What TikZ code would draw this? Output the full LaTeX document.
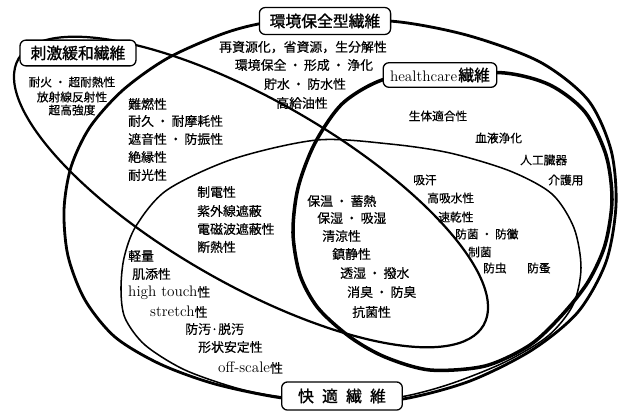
\documentclass[tikz,border=0pt]{standalone}
\usepackage{fontspec}
\newfontfamily\jp{Noto Sans CJK JP}[FakeBold=0.4]
\newfontfamily\jpb{Noto Sans CJK JP}[FakeBold=1.2]
\newcommand{\kdot}{\hspace{2pt}・\hspace{2pt}}
\newcommand{\lat}[1]{{\rmfamily\fontsize{13}{15}\selectfont #1}}

\begin{document}
\begin{tikzpicture}[x=0.03cm,y=-0.03cm,
  item/.style={font=\jp\fontsize{11}{13}\selectfont,inner sep=0pt},
  smallitem/.style={font=\jp\fontsize{10}{12}\selectfont,inner sep=0pt},
  lbl/.style={draw,fill=white,rounded corners=5pt,line width=1.1pt,inner sep=0pt,
    font=\jpb\fontsize{13.5}{16}\selectfont}]
  \useasboundingbox (0,0) rectangle (621,413);

  % outer ellipse (environment)
  \draw[line width=2.4pt] plot[smooth cycle] coordinates {(325,19) (400,22) (470,36) (540,62) (588,100) (611,150) (616,205) (606,262) (578,312) (532,350) (470,381) (403,399) (342,402) (282,398) (215,384) (160,364) (115,337) (85,300) (68,256) (64,210) (71,167) (90,127) (123,90) (168,58) (225,33) (270,22)};
  % healthcare
  \draw[line width=3pt] plot[smooth cycle] coordinates {(440,74) (505,73) (550,85) (585,112) (606,155) (612,200) (605,245) (588,282) (562,315) (530,345) (485,366) (430,370) (385,357) (350,337) (318,308) (300,275) (293,233) (298,188) (315,143) (343,103) (385,79)};
  % stimulus ellipse
  \draw[line width=1.9pt,rotate around={-29.8:(251,192)}] (251,192) ellipse [x radius=268,y radius=92];
  % comfort
  \draw[line width=1.3pt] plot[smooth cycle] coordinates {(317,140) (390,144) (450,153) (510,171) (552,194) (574,228) (581,268) (573,305) (548,336) (505,362) (450,384) (400,397) (342,401) (290,398) (240,389) (185,370) (145,345) (125,318) (121,290) (124,258) (136,226) (167,190) (233,159)};

  % labels
  \node[lbl,minimum width=112pt,minimum height=23pt] (env) at (325,21) {環境保全型繊維};
  \node[lbl,minimum width=99pt,minimum height=22pt] (stim) at (78,53) {刺激緩和繊維};
  \node[lbl,minimum width=97pt,minimum height=21pt] (hc) at (440,75) {\lat{healthcare}\hspace{1pt}繊維};
  \node[lbl,minimum width=103pt,minimum height=24pt] (comfort) at (342,396) {快\hspace{7pt}適\hspace{7pt}繊\hspace{7pt}維};

  % environment
  \node[item] (recycle) at (303,47) {再資源化，省資源，生分解性};
  \node[item] (forming) at (304,65) {環境保全\kdot 形成\kdot 浄化};
  \node[item] (water) at (305,84) {貯水\kdot 防水性};
  \node[item] (oil) at (302,103) {高給油性};

  % stimulus
  \node[smallitem] (fire) at (72,82) {耐火\kdot 超耐熱性};
  \node[smallitem] (radiation) at (72,97) {放射線反射性};
  \node[smallitem] (strength) at (72,110) {超高強度};

  \node[item,anchor=west] (flame) at (128,104) {難燃性};
  \node[item,anchor=west] (durable) at (128,121) {耐久\kdot 耐摩耗性};
  \node[item,anchor=west] (sound) at (128,139) {遮音性\kdot 防振性};
  \node[item,anchor=west] (insul) at (128,157) {絶縁性};
  \node[item,anchor=west] (light) at (128,175) {耐光性};

  \node[item,anchor=west] (static) at (197,192) {制電性};
  \node[item,anchor=west] (uv) at (197,211) {紫外線遮蔽};
  \node[item,anchor=west] (emw) at (197,229) {電磁波遮蔽性};
  \node[item,anchor=west] (heat) at (197,247) {断熱性};

  % comfort
  \node[item,anchor=west] (lightw) at (128,256) {軽量};
  \node[item,anchor=west] (skin) at (132,274) {肌添性};
  \node[item,anchor=west] (touch) at (128,293) {\lat{high touch}性};
  \node[item,anchor=west] (stretch) at (150,312) {\lat{stretch}性};
  \node[item,anchor=west] (soil) at (185,329) {防汚·脱汚};
  \node[item,anchor=west] (shape) at (198,347) {形状安定性};
  \node[item,anchor=west] (offscale) at (218,368) {\lat{off-scale}性};

  \node[item,anchor=west] (warm) at (307,201) {保温\kdot 蓄熱};
  \node[item,anchor=west] (moist) at (317,218) {保湿\kdot 吸湿};
  \node[item,anchor=west] (cool) at (322,236) {清涼性};
  \node[item,anchor=west] (calm) at (332,254) {鎮静性};
  \node[item,anchor=west] (breath) at (340,273) {透湿\kdot 撥水};
  \node[item,anchor=west] (odor) at (347,292) {消臭\kdot 防臭};
  \node[item,anchor=west] (antibac) at (352,312) {抗菌性};

  % healthcare
  \node[smallitem] (bio) at (438,116) {生体適合性};
  \node[smallitem,anchor=west] (blood) at (475,138) {血液浄化};
  \node[smallitem,anchor=west] (organ) at (520,160) {人工臓器};
  \node[smallitem,anchor=west] (care) at (548,180) {介護用};

  \node[smallitem,anchor=west] (sweat) at (413,180) {吸汗};
  \node[smallitem,anchor=west] (absorb) at (427,198) {高吸水性};
  \node[smallitem,anchor=west] (dry) at (438,217) {速乾性};
  \node[smallitem,anchor=west] (mold) at (455,234) {防菌\kdot 防黴};
  \node[smallitem,anchor=west] (germ) at (468,252) {制菌};
  \node[smallitem,anchor=west] (insect) at (483,268) {防虫};
  \node[smallitem,anchor=west] (flea) at (527,268) {防蚤};
\end{tikzpicture}
\end{document}
